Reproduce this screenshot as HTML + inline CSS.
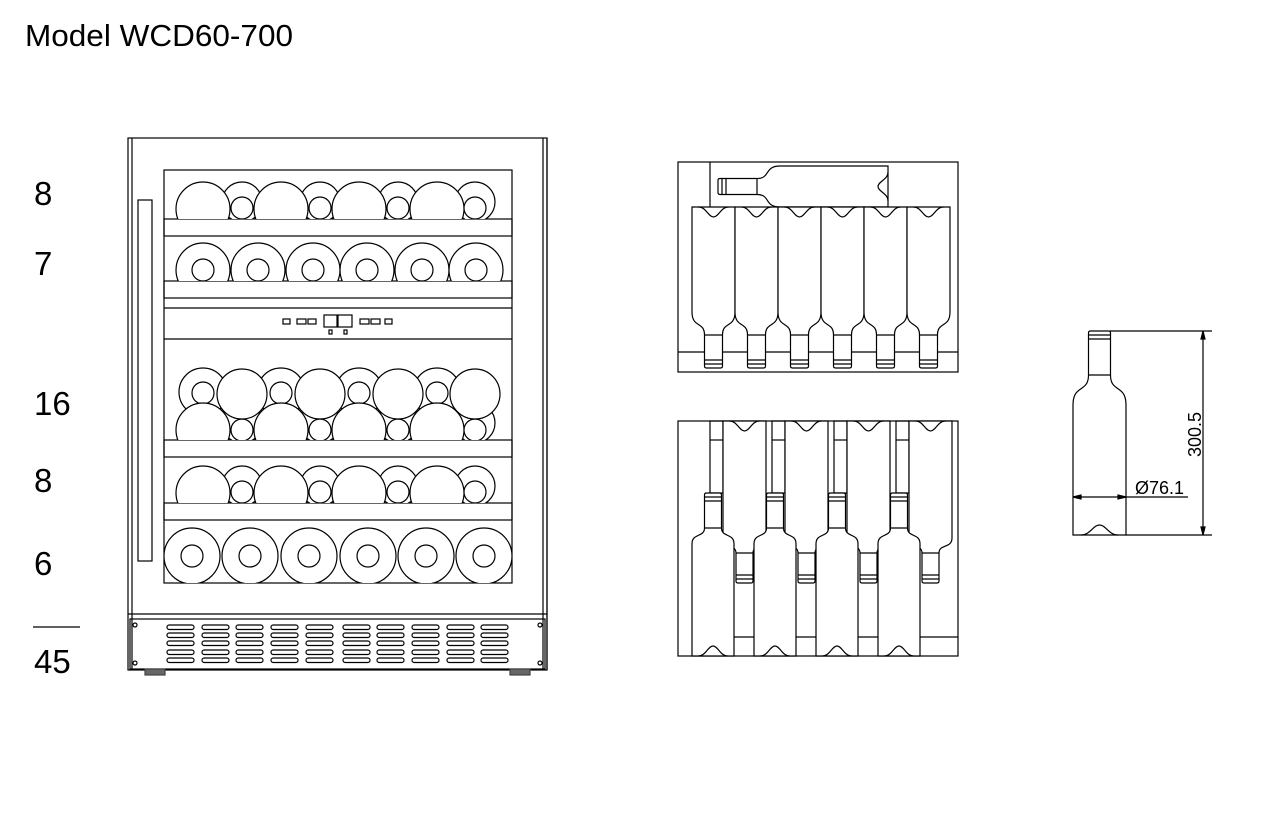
<!DOCTYPE html>
<html><head><meta charset="utf-8"><style>
html,body{margin:0;padding:0;background:#fff;width:1277px;height:814px;overflow:hidden}
svg{display:block}
text{font-family:"Liberation Sans",Arial,sans-serif;fill:#000}
</style></head><body>
<svg id="s" width="1277" height="814" viewBox="0 0 1277 814" xmlns="http://www.w3.org/2000/svg">
<defs>
<clipPath id="r1"><rect x="164" y="170" width="348" height="49"/></clipPath>
<clipPath id="r2"><rect x="164" y="236" width="348" height="45"/></clipPath>
<clipPath id="r3"><rect x="164" y="339" width="348" height="101"/></clipPath>
<clipPath id="r4"><rect x="164" y="457" width="348" height="46"/></clipPath>
<clipPath id="r5"><rect x="164" y="520" width="348" height="63"/></clipPath>
</defs>
<text x="25" y="46" font-size="31" textLength="268" lengthAdjust="spacingAndGlyphs">Model WCD60-700</text>
<g font-size="33">
<text x="34" y="205">8</text>
<text x="34" y="275">7</text>
<text x="34" y="415">16</text>
<text x="34" y="492">8</text>
<text x="34" y="575">6</text>
<text x="34" y="673">45</text>
</g>
<line x1="33" y1="627" x2="80" y2="627" stroke="#000" stroke-width="1.2"/>
<g id="g" fill="none" stroke="#000" stroke-width="1.2"></g>
<text x="1135" y="494" font-size="18">Ø76.1</text>
<text transform="translate(1201,457) rotate(-90)" font-size="18">300.5</text>
</svg>
<script>
var g=document.getElementById('g');var out='';
function add(s){out+=s;}
function ln(x1,y1,x2,y2,c){add('<line x1="'+x1+'" y1="'+y1+'" x2="'+x2+'" y2="'+y2+'"'+(c?' stroke="'+c+'"':'')+'/>');}
function rc(x,y,w,h,ex){add('<rect x="'+x+'" y="'+y+'" width="'+w+'" height="'+h+'" '+(ex||'')+'/>');}
function ci(x,y,r){add('<circle cx="'+x+'" cy="'+y+'" r="'+r+'" fill="#fff"/>');}
rc(128,138,419,532);
ln(132,138,132,670);ln(543,138,543,670);ln(547,138,547,670);
rc(164,170,348,413);
rc(138,200,14,361);
ln(128,614,547,614);
rc(130,619,415,50);
rc(145,669,20,6,'fill="#666" stroke="#444"');rc(510,669,20,6,'fill="#666" stroke="#444"');
var vx=[167,202,236,271,306,343,377,412,447,481];
vx.forEach(function(x){[627,635,643,652,660].forEach(function(y){rc(x,y-2,27,4.5,'rx="2.2"');});});
[[135,625],[135,663],[540,625],[540,663]].forEach(function(p){add('<circle cx="'+p[0]+'" cy="'+p[1]+'" r="2"/>');});
[[219,236],[281,298],[440,457],[503,520]].forEach(function(s){rc(164,s[0],348,s[1]-s[0]);});
ln(164,308,512,308);ln(164,339,512,339);
rc(283,319,7,5);rc(297,319,9,5);rc(308,319,8,5);
rc(324,315,13,12);rc(338,315,14,12);
rc(360,319,9,5);rc(371,319,9,5);rc(385,319,7,5);
rc(329,330,3,4);rc(344,330,3,4);
var L=[203,281,359,437],S=[242,320,398,475];
add('<g clip-path="url(#r1)">');
S.forEach(function(x){ci(x,202,20);});L.forEach(function(x){ci(x,209,27);});S.forEach(function(x){ci(x,208,11);});
add('</g><g clip-path="url(#r2)">');
[203,258,313,367,422,476].forEach(function(x){ci(x,270,27);ci(x,270,11);});
add('</g><g clip-path="url(#r3)">');
L.forEach(function(x){ci(x,392,24);ci(x,393,11);});
S.forEach(function(x){ci(x,423,20);});
L.forEach(function(x){ci(x,430,27);});
S.forEach(function(x){ci(x,430,11);});
S.forEach(function(x){ci(x,394,25);});
add('</g><g clip-path="url(#r4)">');
S.forEach(function(x){ci(x,486,20);});L.forEach(function(x){ci(x,493,27);});S.forEach(function(x){ci(x,492,11);});
add('</g><g clip-path="url(#r5)">');
[192,250,309,368,426,484].forEach(function(x){ci(x,556,28);ci(x,556,11);});
add('</g>');
function bottle(tf,w,H,b,s,nw,punt){
 var nl=(w-nw)/2,nr=nl+nw;
 var p='M0 0V'+(-b)+'C0 '+(-(b+s*0.7))+' '+nl+' '+(-(b+s*0.4))+' '+nl+' '+(-(b+s))+'V'+(-(H-2))+'Q'+nl+' '+(-H)+' '+(nl+2)+' '+(-H)+'H'+(nr-2)+'Q'+nr+' '+(-H)+' '+nr+' '+(-(H-2))+'V'+(-(b+s))+'C'+nr+' '+(-(b+s*0.4))+' '+w+' '+(-(b+s*0.7))+' '+w+' '+(-b)+'V0Z';
 var pu='M'+(w*0.15)+' 0C'+(w*0.33)+' 0 '+(w*0.38)+' -10 '+(w*0.5)+' -10C'+(w*0.62)+' -10 '+(w*0.67)+' 0 '+(w*0.85)+' 0';
 add('<g transform="'+tf+'"><path d="'+p+'" fill="#fff"/>'+(punt?'<path d="'+pu+'"/>':'')+
 '<line x1="'+nl+'" y1="'+(-(H-4))+'" x2="'+nr+'" y2="'+(-(H-4))+'"/><line x1="'+nl+'" y1="'+(-(H-8))+'" x2="'+nr+'" y2="'+(-(H-8))+'"/>'+
 '<line x1="'+nl+'" y1="'+(-(b+s))+'" x2="'+nr+'" y2="'+(-(b+s))+'"/></g>');
}
rc(678,162,280,210);
ln(710,162,710,207);ln(678,352,958,352);
bottle('translate(888,207) rotate(-90)',41,170,108,23,16,true);
[692,735,778,821,864,907].forEach(function(x){bottle('translate('+x+',207) scale(1,-1)',43,161,105,23,18,true);});
rc(678,421,280,235);
[710,772,834,896].forEach(function(x){rc(x,421,13,72);ln(x,440,x+13,440);});
[734,796,858].forEach(function(x){ln(x,637,x+20,637);});ln(920,637,958,637);
[723,785,847,909].forEach(function(x){bottle('translate('+x+',421) scale(1,-1)',43,162,117,15,17,true);});
[692,754,816,878].forEach(function(x){bottle('translate('+x+',656)',42,163,112,16,17,true);});
bottle('translate(1073,535)',53,204,130,30,22,true);
ln(1110,331,1212,331);ln(1126,535,1212,535);
ln(1203,331,1203,535);
add('<path d="M1203 331l-2 8h4z M1203 535l-2 -8h4z" fill="#000"/>');
ln(1073,497,1188,497);
add('<path d="M1073 497l8 -2v4z M1126 497l-8 -2v4z" fill="#000"/>');
g.innerHTML=out;
</script>
</body></html>
